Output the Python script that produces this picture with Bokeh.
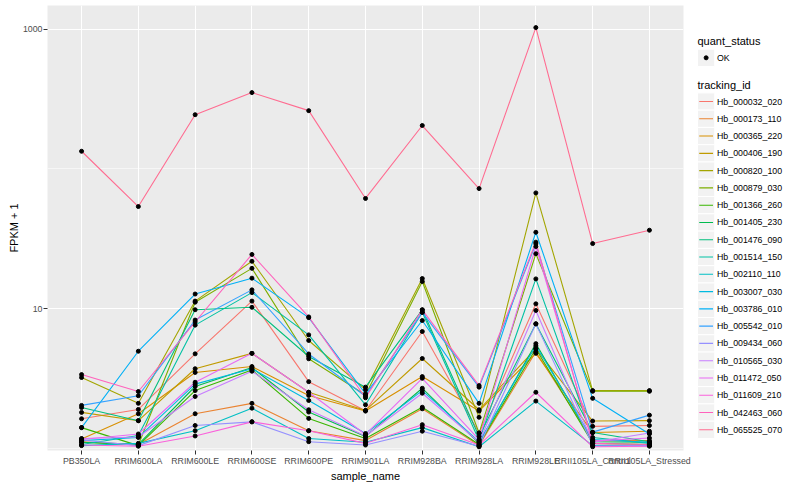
import math
from bokeh.plotting import figure
from bokeh.models import Range1d, FixedTicker, NumeralTickFormatter
from bokeh.layouts import row
from bokeh.embed import file_html
from bokeh.resources import INLINE
from bokeh.core.properties import value

# ---------------- data ----------------
samples = ["PB350LA", "RRIM600LA", "RRIM600LE", "RRIM600SE", "RRIM600PE",
           "RRIM901LA", "RRIM928BA", "RRIM928LA", "RRIM928LE",
           "RRII105LA_Control", "RRII105LA_Stressed"]

tracking_ids = ["Hb_000032_020", "Hb_000173_110", "Hb_000365_220", "Hb_000406_190",
                "Hb_000820_100", "Hb_000879_030", "Hb_001366_260", "Hb_001405_230",
                "Hb_001476_090", "Hb_001514_150", "Hb_002110_110", "Hb_003007_030",
                "Hb_003786_010", "Hb_005542_010", "Hb_009434_060", "Hb_010565_030",
                "Hb_011472_050", "Hb_011609_210", "Hb_042463_060", "Hb_065525_070"]

quant_status = ["OK"]

# FPKM + 1 per sample, in the order of `samples`
hb_000032_020 = [1.62, 1.89, 4.73, 11.3, 2.99, 1.85, 6.84, 1.28, 10.8, 1.43, 1.45]
hb_000173_110 = [1.11, 1.06, 1.76, 2.09, 1.33, 1.13, 1.91, 1.04, 4.9, 1.13, 1.13]
hb_000365_220 = [1.16, 1.76, 3.48, 3.84, 2.38, 1.84, 3.25, 1.84, 4.77, 1.29, 1.32]
hb_000406_190 = [1.80, 1.57, 3.70, 4.77, 2.51, 1.86, 4.38, 1.88, 5.15, 1.56, 1.57]
hb_000820_100 = [3.2, 2.09, 11.3, 21.8, 5.9, 2.62, 16.4, 1.66, 67.4, 2.58, 2.58]
hb_000879_030 = [1.10, 1.05, 11.1, 19.4, 4.36, 2.40, 15.6, 1.28, 24.7, 2.55, 2.55]
hb_001366_260 = [1.40, 1.04, 2.58, 3.63, 1.63, 1.17, 1.96, 1.06, 5.15, 1.08, 1.06]
hb_001405_230 = [1.10, 1.06, 2.76, 3.77, 1.81, 1.21, 2.68, 1.08, 5.6, 1.11, 1.10]
hb_001476_090 = [1.95, 1.57, 9.8, 10.2, 4.53, 2.73, 9.78, 1.21, 7.76, 1.29, 1.11]
hb_001514_150 = [1.06, 1.23, 7.6, 13.0, 6.47, 2.04, 9.4, 1.13, 16.3, 1.19, 1.08]
hb_002110_110 = [1.04, 1.08, 1.33, 1.93, 1.17, 1.10, 1.40, 1.02, 2.17, 1.04, 1.04]
hb_003007_030 = [1.13, 1.19, 2.87, 3.70, 2.19, 1.27, 2.58, 1.11, 5.4, 1.15, 1.10]
hb_003786_010 = [1.40, 4.94, 12.7, 16.5, 8.6, 2.45, 8.2, 2.09, 35.2, 2.27, 1.26]
hb_005542_010 = [2.02, 2.37, 8.26, 13.6, 4.72, 2.35, 9.38, 2.73, 29.1, 1.30, 1.72]
hb_009434_060 = [1.14, 1.04, 1.45, 1.54, 1.11, 1.05, 1.32, 1.03, 7.76, 1.05, 1.04]
hb_010565_030 = [1.17, 1.20, 2.34, 3.55, 1.88, 1.22, 2.47, 1.10, 9.68, 1.10, 1.28]
hb_011472_050 = [1.15, 1.26, 2.96, 4.77, 2.51, 1.25, 3.16, 1.15, 27.8, 1.12, 1.18]
hb_011609_210 = [1.05, 1.03, 1.22, 1.54, 1.33, 1.08, 1.47, 1.05, 2.51, 1.02, 1.03]
hb_042463_060 = [3.36, 2.54, 8.0, 24.4, 8.7, 2.29, 9.78, 2.80, 29.9, 1.08, 1.06]
hb_065525_070 = [134, 53.8, 245, 353, 262, 61.5, 205, 72.4, 1032, 29.2, 36.4]

series = [hb_000032_020, hb_000173_110, hb_000365_220, hb_000406_190, hb_000820_100,
          hb_000879_030, hb_001366_260, hb_001405_230, hb_001476_090, hb_001514_150,
          hb_002110_110, hb_003007_030, hb_003786_010, hb_005542_010, hb_009434_060,
          hb_010565_030, hb_011472_050, hb_011609_210, hb_042463_060, hb_065525_070]

y_ticks = [10, 1000]
y_minor = [1, 100]

# ---------------- style / layout ----------------
colors = ["#F8766D", "#EA8331", "#D89000", "#C09B00", "#A3A500", "#7CAE00", "#39B600",
          "#00BB4E", "#00BF7D", "#00C1A3", "#00BFC4", "#00BAE0", "#00B0F6", "#35A2FF",
          "#9590FF", "#C77CFF", "#E76BF3", "#FA62DB", "#FF62BC", "#FF6C91"]
FONT = "Liberation Sans"

H = 484
TOP = 5
BOTTOM = 34
FRAME_H = H - TOP - BOTTOM
YLAB_W = 19
MAIN_W = 676
LEG_W = 89

xpos = {s: i for i, s in enumerate(samples)}

p = figure(width=MAIN_W, height=H,
           x_range=Range1d(-0.6, len(samples) - 0.4),
           y_axis_type="log", y_range=Range1d(0.9596, 1486),
           output_backend="svg", toolbar_location=None,
           min_border_left=26, min_border_right=12, min_border_top=TOP,
           min_border_bottom=BOTTOM)
p.background_fill_color = "#EBEBEB"
p.border_fill_color = "white"
p.outline_line_color = None

for vals, col in zip(series, colors):
    p.line(x=[xpos[s] for s in samples], y=vals, line_color=col, line_width=1.1)

all_x = [xpos[s] for vals in series for s in samples]
all_y = [v for vals in series for v in vals]
p.scatter(x=all_x, y=all_y, size=4, fill_color="black", line_color="black")

yticker = FixedTicker(ticks=y_ticks, minor_ticks=y_minor)
p.yaxis.ticker = yticker
p.ygrid.ticker = yticker
p.yaxis.formatter = NumeralTickFormatter(format="0")

xticker = FixedTicker(ticks=list(range(len(samples))), minor_ticks=[])
p.xaxis.ticker = xticker
p.xgrid.ticker = xticker
p.xaxis.major_label_overrides = {i: s for i, s in enumerate(samples)}

p.xgrid.grid_line_color = "white"
p.xgrid.grid_line_width = 1.1
p.ygrid.grid_line_color = "white"
p.ygrid.grid_line_width = 1.1
p.ygrid.minor_grid_line_color = "white"
p.ygrid.minor_grid_line_width = 0.55

p.xaxis.axis_label = "sample_name"
for ax in (p.xaxis[0], p.yaxis[0]):
    ax.axis_line_color = None
    ax.major_tick_line_color = "#333333"
    ax.major_tick_out = 4
    ax.major_tick_in = 0
    ax.minor_tick_line_color = None
    ax.major_label_text_color = "#4D4D4D"
    ax.major_label_text_font = FONT
    ax.major_label_text_font_size = "8.8px"
    ax.major_label_standoff = 1
    ax.axis_label_text_font = FONT
    ax.axis_label_text_font_size = "11px"
    ax.axis_label_text_font_style = "normal"
    ax.axis_label_text_color = "black"
    ax.axis_label_standoff = 1

# ---------------- y axis title panel ----------------
ylab = figure(width=YLAB_W, height=H, x_range=Range1d(0, YLAB_W), y_range=Range1d(0, 1),
              output_backend="svg", toolbar_location=None, min_border=0,
              min_border_top=TOP, min_border_bottom=BOTTOM,
              x_axis_location=None, y_axis_location=None)
ylab.outline_line_color = None
ylab.grid.visible = False
ylab.background_fill_color = "white"
ylab.text(x=[13.3], y=[0.5], text=["FPKM + 1"], angle=math.pi / 2,
          text_font=value(FONT), text_font_size="11px", text_align="center",
          text_baseline="middle", text_color="black")

# ---------------- legend panel ----------------
leg = figure(width=LEG_W, height=H, x_range=Range1d(0, LEG_W), y_range=Range1d(FRAME_H, 0),
             output_backend="svg", toolbar_location=None, min_border=0,
             min_border_top=TOP, min_border_bottom=BOTTOM,
             x_axis_location=None, y_axis_location=None)
leg.outline_line_color = None
leg.background_fill_color = "white"
leg.border_fill_color = "white"
leg.grid.visible = False

key = 17.28
kx = 2 + key / 2
title1_y = 35.7
ok_y = [52.3 + i * key for i in range(len(quant_status))]
title2_y = 79.3
keys_y = [96.0 + i * key for i in range(len(tracking_ids))]

leg.text(x=[2, 2], y=[title1_y, title2_y], text=["quant_status", "tracking_id"],
         text_font=value(FONT), text_font_size="11px", text_baseline="middle",
         text_color="black")
leg.rect(x=[kx] * (len(ok_y) + len(keys_y)), y=ok_y + keys_y, width=key, height=key,
         fill_color="#F2F2F2", line_color="white", line_width=1)
leg.scatter(x=[kx] * len(ok_y), y=ok_y, size=4, fill_color="black", line_color="black")
leg.segment(x0=[kx - 6.9] * len(keys_y), x1=[kx + 6.9] * len(keys_y), y0=keys_y, y1=keys_y,
            line_color=colors, line_width=1.1)
leg.text(x=[21.5] * (len(ok_y) + len(keys_y)), y=ok_y + keys_y,
         text=quant_status + tracking_ids, text_font=value(FONT), text_font_size="8.8px",
         text_baseline="middle", text_color="black")

layout = row(ylab, p, leg)
open("out.html", "w").write(file_html(layout, INLINE))
